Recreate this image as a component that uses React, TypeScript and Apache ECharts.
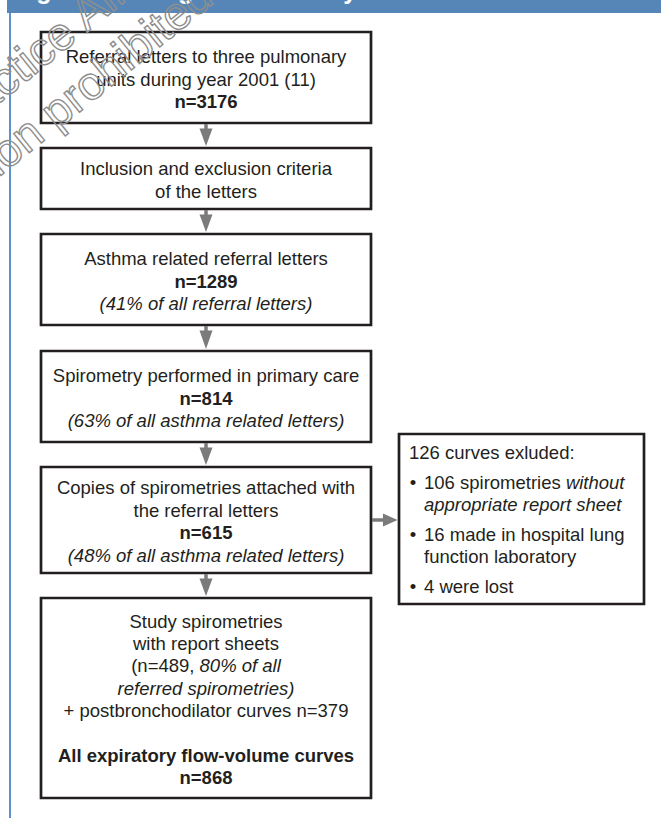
import React, { useEffect, useRef } from "react";
import * as echarts from "echarts";

// ---------- content ----------
const headerTitle = "Figure 1. Design of the study";
const watermarkLines = ["Copyright General Practice Airways Group", "Reproduction prohibited"];

const box1Lines = ["Referral letters to three pulmonary", "units during year 2001 (11)", "{b|n=3176}"];
const box2Lines = ["Inclusion and exclusion criteria", "of the letters"];
const box3Lines = ["Asthma related referral letters", "{b|n=1289}", "{i|(41% of all referral letters)}"];
const box4Lines = ["Spirometry performed in primary care", "{b|n=814}", "{i|(63% of all asthma related letters)}"];
const box5Lines = [
  "Copies of spirometries attached with",
  "the referral letters",
  "{b|n=615}",
  "{i|(48% of all asthma related letters)}",
];
const box6Lines = [
  "Study spirometries",
  "with report sheets",
  "(n=489, {i|80% of all}",
  "{i|referred spirometries)}",
  "+ postbronchodilator curves n=379",
  " ",
  "{b|All expiratory flow-volume curves}",
  "{b|n=868}",
];
const excludedTitle = "126 curves exluded:";
const excludedItem1 = ["106 spirometries {i|without}", "{i|appropriate report sheet}"];
const excludedItem2 = ["16 made in hospital lung", "function laboratory"];
const excludedItem3 = ["4 were lost"];

const mainBoxes = [box1Lines, box2Lines, box3Lines, box4Lines, box5Lines, box6Lines];
const excludedItems = [excludedItem1, excludedItem2, excludedItem3];

// ---------- layout & style ----------
const FONT = "'Liberation Sans', Arial, Helvetica, sans-serif";
const FS = 18.5;
const LH = 22.4;
const TEXT = "#231f20";
const BORDER = "#231f20";
const ARROW = "#7b7b7b";
const BORDER_W = 2.7;

const MAIN_LEFT = 41;
const MAIN_W = 330;
const boxTops = [32, 148, 234, 351, 467, 598];
const boxHeights = [91, 61, 91, 91, 106, 200];
const EX = { left: 399, top: 434, width: 245, height: 170 };

// watermark geometry: font size, angle, and where a reference point of each line sits
const WM_FS = 46.5;
const WM_ANGLE = (39 * Math.PI) / 180;
const WM_L1_P = [34, 60]; // between the "c" and "e" of "ctice"
const WM_L2_P = [178, 17]; // the "e" of "prohibited"
const WM_L1_OFFSET_EM = 10.962; // advance up to that point (Arial metrics)
const WM_L2_OFFSET_EM = 9.782;

const baseFont = { fontFamily: FONT, fontSize: FS, fontWeight: "normal", fontStyle: "normal" };
const rich = {
  b: { ...baseFont, fontWeight: "bold", fill: TEXT, lineHeight: LH },
  i: { ...baseFont, fontStyle: "italic", fill: TEXT, lineHeight: LH },
};

function textStyle(text: string, align: string, vAlign: string) {
  return {
    text,
    rich,
    ...baseFont,
    fill: TEXT,
    lineHeight: LH,
    align,
    verticalAlign: vAlign,
    textAlign: align,
    textVerticalAlign: vAlign,
  };
}

function buildElements() {
  const els: any[] = [];
  const cx = MAIN_LEFT + MAIN_W / 2;

  // header bar & left rule
  els.push({ type: "rect", shape: { x: 7, y: -1, width: 661, height: 14 }, style: { fill: "#5686b7" }, z: 1 });
  els.push({ type: "rect", shape: { x: 9, y: 13, width: 2, height: 820 }, style: { fill: "#5f92cc" }, z: 1 });
  els.push({
    type: "text",
    x: 14,
    y: -10,
    z: 2,
    style: {
      text: headerTitle,
      fontFamily: FONT,
      fontSize: 25,
      fontWeight: "bold",
      fill: "#ffffff",
      align: "left",
      verticalAlign: "middle",
      textAlign: "left",
      textVerticalAlign: "middle",
    },
  });

  mainBoxes.forEach((lines, k) => {
    const top = boxTops[k];
    const h = boxHeights[k];
    els.push({
      type: "rect",
      z: 3,
      shape: { x: MAIN_LEFT, y: top, width: MAIN_W, height: h },
      style: { fill: "#ffffff", stroke: BORDER, lineWidth: BORDER_W },
    });
    els.push({
      type: "text",
      z: 4,
      x: cx,
      y: top + h / 2 + 1.5,
      style: textStyle(lines.join("\n"), "center", "middle"),
    });
    if (k < mainBoxes.length - 1) {
      const y1 = top + h;
      const y2 = boxTops[k + 1];
      els.push({
        type: "line",
        z: 3,
        shape: { x1: cx, y1: y1 + 1, x2: cx, y2: y1 + 7 },
        style: { stroke: ARROW, lineWidth: 3.5 },
      });
      els.push({
        type: "polygon",
        z: 3,
        shape: { points: [[cx - 6.5, y1 + 5.5], [cx + 6.5, y1 + 5.5], [cx, y2 - 2]] },
        style: { fill: ARROW },
      });
    }
  });

  // right arrow from box 5 to the exclusion box
  const ay = boxTops[4] + boxHeights[4] / 2;
  const ax1 = MAIN_LEFT + MAIN_W + 1;
  els.push({ type: "line", z: 3, shape: { x1: ax1, y1: ay, x2: ax1 + 12, y2: ay }, style: { stroke: ARROW, lineWidth: 3.5 } });
  els.push({
    type: "polygon",
    z: 3,
    shape: { points: [[ax1 + 11, ay - 6.5], [ax1 + 11, ay + 6.5], [EX.left - 1.5, ay]] },
    style: { fill: ARROW },
  });

  // exclusion box
  els.push({
    type: "rect",
    z: 3,
    shape: { x: EX.left, y: EX.top, width: EX.width, height: EX.height },
    style: { fill: "#ffffff", stroke: BORDER, lineWidth: BORDER_W },
  });
  let y = EX.top + 18;
  els.push({ type: "text", z: 4, x: EX.left + 10, y, style: textStyle(excludedTitle, "left", "middle") });
  excludedItems.forEach((item) => {
    y += 30;
    els.push({ type: "text", z: 4, x: EX.left + 14, y, style: textStyle("•", "center", "middle") });
    item.forEach((line, j) => {
      if (j > 0) y += 22;
      els.push({ type: "text", z: 4, x: EX.left + 25, y, style: textStyle(line, "left", "middle") });
    });
  });

  // watermark (outlined grey text rotated upward)
  const fs = WM_FS;
  const dx = Math.cos(WM_ANGLE), dy = -Math.sin(WM_ANGLE);
  const nx = Math.sin(WM_ANGLE), ny = Math.cos(WM_ANGLE);
  const anchor = (p: number[], offEm: number) => {
    const t = p[0] * dx + p[1] * dy - offEm * fs;
    const s = p[0] * nx + p[1] * ny - 0.09 * fs;
    return [t * dx + s * nx, t * dy + s * ny];
  };
  const pos = [anchor(WM_L1_P, WM_L1_OFFSET_EM), anchor(WM_L2_P, WM_L2_OFFSET_EM)];
  watermarkLines.forEach((t, k) => {
    els.push({
      type: "text",
      z: 10,
      x: pos[k][0],
      y: pos[k][1],
      rotation: WM_ANGLE,
      silent: true,
      style: {
        text: t,
        fontFamily: FONT,
        fontSize: fs,
        fill: "rgba(255,255,255,0)",
        stroke: "#8e8e8e",
        lineWidth: 1.4,
        align: "left",
        verticalAlign: "middle",
        textAlign: "left",
        textVerticalAlign: "middle",
      },
    });
  });

  return els;
}

export default function App() {
  const ref = useRef<HTMLDivElement>(null);
  useEffect(() => {
    if (!ref.current) return;
    const chart = echarts.init(ref.current, undefined, { renderer: "svg" });
    chart.setOption({
      animation: false,
      backgroundColor: "#ffffff",
      graphic: { elements: buildElements() },
    });
    return () => chart.dispose();
  }, []);
  return (
    <div
      ref={ref}
      style={{ position: "fixed", left: 0, top: 0, width: 661, height: 818, background: "#ffffff" }}
    />
  );
}
